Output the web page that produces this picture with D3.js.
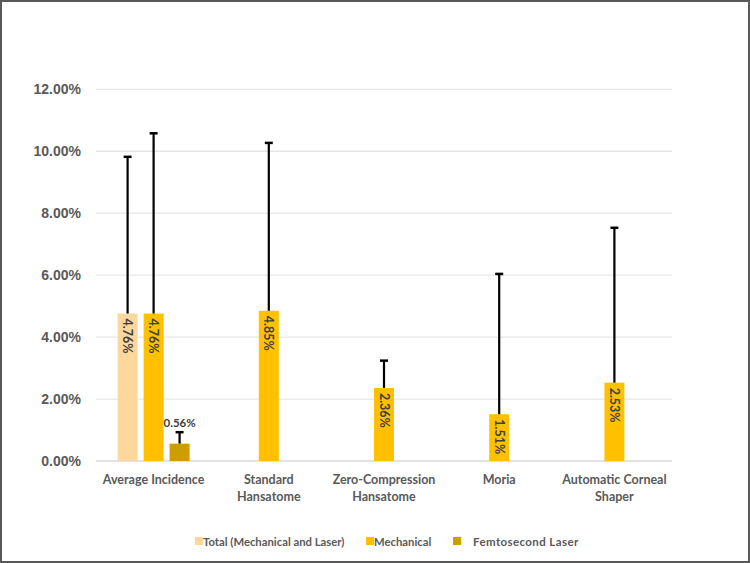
<!DOCTYPE html>
<html><head><meta charset="utf-8">
<script src="https://cdn.jsdelivr.net/npm/d3@7"></script>
<style>body{margin:0;background:#fff;}svg{display:block;font-family:Lato,"Open Sans",sans-serif;}</style>
</head><body>
<svg id="c" width="750" height="563"></svg>
<script>
const categories = ["Average Incidence", "Standard Hansatome", "Zero-Compression Hansatome", "Moria", "Automatic Corneal Shaper"];
const categoryLines = [["Average Incidence"], ["Standard", "Hansatome"], ["Zero-Compression", "Hansatome"], ["Moria"], ["Automatic Corneal", "Shaper"]];
const seriesNames = ["Total (Mechanical and Laser)", "Mechanical", "Femtosecond Laser"];
const seriesColors = ["#FDD79B", "#FFC000", "#CC9E00"];
// values (%), null = no bar
const totalValues = [4.76, null, null, null, null];
const mechanicalValues = [4.76, 4.85, 2.36, 1.51, 2.53];
const femtoValues = [0.56, null, null, null, null];
// upper end of error bars (%)
const totalErrTop = [9.82, null, null, null, null];
const mechanicalErrTop = [10.58, 10.27, 3.24, 6.04, 7.53];
const femtoErrTop = [0.93, null, null, null, null];
const yTicks = [0, 2, 4, 6, 8, 10, 12];

const svg = d3.select("#c");
svg.append("rect").attr("x",1).attr("y",1).attr("width",748).attr("height",561)
  .attr("fill","#fff").attr("stroke","#595959").attr("stroke-width",2);

const x = d3.scaleBand().domain(categories).range([96,672]);
const y = d3.scaleLinear().domain([0,12]).range([461,89.3]);
const barW = 20, slot = 26;

// gridlines
svg.append("g").selectAll("line").data(yTicks).join("line")
  .attr("x1",96).attr("x2",672).attr("y1",d=>y(d)).attr("y2",d=>y(d))
  .attr("stroke",d=>d===0?"#d9d9d9":"#e6e6e6").attr("stroke-width",d=>d===0?1.5:1.3);

// y axis labels
const yAxis = d3.axisLeft(y).tickValues(yTicks).tickFormat(d=>d.toFixed(2)+"%").tickSize(0).tickPadding(0);
const yg = svg.append("g").attr("transform","translate(81,0)").call(yAxis);
yg.select(".domain").remove();
yg.selectAll("text").attr("font-size",14).attr("font-weight","bold").attr("fill","#595959");

// series definitions
const series = [
  {vals: totalValues, err: totalErrTop, color: seriesColors[0], off: -slot},
  {vals: mechanicalValues, err: mechanicalErrTop, color: seriesColors[1], off: 0},
  {vals: femtoValues, err: femtoErrTop, color: seriesColors[2], off: slot}
];
series.forEach((s,si)=>{
  const data = categories.map((c,i)=>({c, v:s.vals[i], e:s.err[i]})).filter(d=>d.v!=null);
  const g = svg.append("g");
  g.selectAll("rect").data(data).join("rect")
    .attr("x",d=>x(d.c)+x.bandwidth()/2+s.off-barW/2)
    .attr("y",d=>y(d.v)).attr("width",barW).attr("height",d=>y(0)-y(d.v))
    .attr("fill",s.color);
  // error bars
  g.selectAll("line.e").data(data).join("line").attr("class","e")
    .attr("x1",d=>x(d.c)+x.bandwidth()/2+s.off).attr("x2",d=>x(d.c)+x.bandwidth()/2+s.off)
    .attr("y1",d=>y(d.v)).attr("y2",d=>y(d.e)).attr("stroke","#000").attr("stroke-width",2.2);
  g.selectAll("line.cap").data(data).join("line").attr("class","cap")
    .attr("x1",d=>x(d.c)+x.bandwidth()/2+s.off-4).attr("x2",d=>x(d.c)+x.bandwidth()/2+s.off+4)
    .attr("y1",d=>y(d.e)).attr("y2",d=>y(d.e)).attr("stroke","#000").attr("stroke-width",2.5);
  // labels
  data.forEach(d=>{
    const cx = x(d.c)+x.bandwidth()/2+s.off;
    const txt = d.v.toFixed(2)+"%";
    if (si===2) {
      g.append("text").attr("x",cx).attr("y",y(d.e)-5).attr("text-anchor","middle")
        .attr("font-size",11.5).attr("font-weight","bold").attr("fill","#404040").text(txt);
    } else {
      g.append("text").attr("transform",`translate(${cx},${y(d.v)+5}) rotate(90)`)
        .attr("dy","0.35em").attr("font-size",12.5).attr("font-weight","bold").attr("fill","#404040").text(txt);
    }
  });
});

// category labels
const xg = svg.append("g");
categories.forEach((c,i)=>{
  const t = xg.append("text").attr("x",x(c)+x.bandwidth()/2).attr("y",484)
    .attr("text-anchor","middle").attr("font-size",12.5).attr("font-weight","bold").attr("fill","#595959");
  categoryLines[i].forEach((ln,j)=>t.append("tspan").attr("x",x(c)+x.bandwidth()/2).attr("dy",j?17:0).text(ln));
});

// legend
const legendX = [195, 366, 453];
const legendTextX = [203, 374, 473];
seriesNames.forEach((n,i)=>{
  svg.append("rect").attr("x",legendX[i]).attr("y",537).attr("width",8).attr("height",8).attr("fill",seriesColors[i]);
  svg.append("text").attr("x",legendTextX[i]).attr("y",545.5).attr("font-size",i===2?11.5:11.3)
    .attr("font-weight","bold").attr("fill","#595959").attr("letter-spacing",i===2?0.4:0).text(n);
});
</script>
</body></html>
